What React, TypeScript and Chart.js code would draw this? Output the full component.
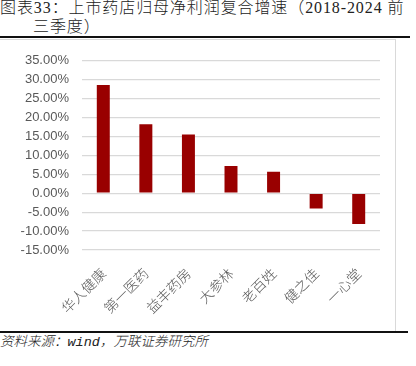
import React, { useEffect, useRef } from "react";
import { Chart, registerables } from "chart.js";

Chart.register(...registerables);

const titleLine1 = "图表33：上市药店归母净利润复合增速（2018-2024 前";
const titleLine2 = "三季度）";
const sourceText = "资料来源：wind，万联证券研究所";

const categories = ["华人健康", "第一医药", "益丰药房", "大参林", "老百姓", "健之佳", "一心堂"];
const growthValues = [28.6, 18.2, 15.5, 7.2, 5.7, -4.0, -8.1];
const yMin = -15;
const yMax = 35;
const yStep = 5;

function MixedText({ text }: { text: string }) {
  const parts = text.split(/([\x20-\x7e]+)/).filter((p) => p.length > 0);
  return (
    <>
      {parts.map((p, i) =>
        /^[\x20-\x7e]+$/.test(p) ? (
          <span key={i} style={{ fontWeight: 400 }}>
            {p}
          </span>
        ) : (
          <span key={i}>{p}</span>
        )
      )}
    </>
  );
}

export default function App() {
  const canvasRef = useRef<HTMLCanvasElement | null>(null);

  useEffect(() => {
    document.body.style.margin = "0";
    const canvas = canvasRef.current;
    if (!canvas) return;
    const chart = new Chart(canvas, {
      type: "bar",
      data: {
        labels: categories,
        datasets: [
          {
            data: growthValues,
            backgroundColor: "#990000",
            borderWidth: 0,
            categoryPercentage: 1,
            barPercentage: 0.305,
          },
        ],
      },
      options: {
        animation: false,
        responsive: false,
        devicePixelRatio: 1,
        layout: { padding: { top: 16, right: 17, left: 0, bottom: 0 } },
        plugins: {
          legend: { display: false },
          tooltip: { enabled: false },
          title: { display: false },
        },
        scales: {
          x: {
            grid: { display: false },
            border: { display: false },
            ticks: {
              autoSkip: false,
              minRotation: 45,
              maxRotation: 45,
              padding: 7,
              color: "#595959",
              font: { family: "'Noto Sans CJK SC'", size: 14, weight: "300" },
            },
            afterFit: (scale: any) => {
              scale.height = 80;
            },
          },
          y: {
            min: yMin,
            max: yMax,
            grid: { color: "#d9d9d9", lineWidth: 1.3, drawTicks: false },
            border: { display: false },
            ticks: {
              stepSize: yStep,
              padding: 13,
              color: "#595959",
              font: { family: "'Liberation Sans'", size: 13 },
              callback: (v: any) => Number(v).toFixed(2) + "%",
            },
            afterFit: (scale: any) => {
              scale.width = 82;
            },
          },
        },
      },
    });
    return () => chart.destroy();
  }, []);

  return (
    <div style={{ position: "fixed", left: 0, top: 0, width: 416, height: 366, background: "#fff", overflow: "hidden" }}>
      <div
        style={{
          position: "absolute",
          left: 0,
          top: -1,
          fontFamily: "'Liberation Serif', 'Noto Sans CJK SC'",
          fontSize: 16,
          fontWeight: 300,
          lineHeight: "18.5px",
          letterSpacing: 0.9,
          color: "#222",
          whiteSpace: "nowrap",
        }}
      >
        <div>
          <MixedText text={titleLine1} />
        </div>
        <div style={{ paddingLeft: 33 }}>
          <MixedText text={titleLine2} />
        </div>
      </div>
      <div style={{ position: "absolute", left: 0, top: 36, width: 410, height: 2, background: "#111" }} />
      <div
        style={{
          position: "absolute",
          left: -1,
          top: 39,
          width: 397,
          height: 292,
          borderTop: "1px solid #d9d9d9",
          borderRight: "1px solid #d9d9d9",
          boxSizing: "border-box",
        }}
      />
      <canvas
        ref={canvasRef}
        width={397}
        height={290}
        style={{ position: "absolute", left: 0, top: 40, width: 397, height: 290 }}
      />
      <div style={{ position: "absolute", left: 0, top: 331, width: 408, height: 2, background: "#111" }} />
      <div
        style={{
          position: "absolute",
          left: 0,
          top: 334,
          fontFamily: "'Liberation Mono', 'Noto Sans CJK SC'",
          fontStyle: "italic",
          fontWeight: 300,
          fontSize: 13.5,
          lineHeight: "18px",
          color: "#222",
          whiteSpace: "nowrap",
        }}
      >
        <MixedText text={sourceText} />
      </div>
    </div>
  );
}
